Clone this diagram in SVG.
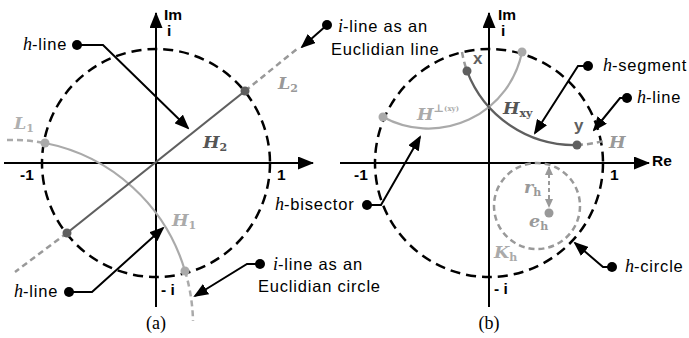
<svg xmlns="http://www.w3.org/2000/svg" width="689" height="338" viewBox="0 0 689 338">
<style>
.ax{fill:none;stroke:#000;stroke-width:2;marker-end:url(#axh)}
.uc{fill:none;stroke:#000;stroke-width:2.5;stroke-dasharray:10 6}
.lbl{font-family:"Liberation Sans",Arial,sans-serif;font-size:16.5px;letter-spacing:0.8px;fill:#000}
.mi{font-family:"Liberation Serif","Times New Roman",serif;font-style:italic;font-size:18px;letter-spacing:0}
.num{font-family:"Liberation Sans",Arial,sans-serif;font-weight:bold;font-size:15.5px;fill:#000}
.cap{font-family:"Liberation Serif","Times New Roman",serif;font-size:18px;fill:#000;text-anchor:middle}
.math{font-family:"DejaVu Serif","Liberation Serif",serif;font-style:italic;font-weight:bold;font-size:17.5px}
.sub{font-style:normal;font-size:11px}
.ann{fill:none;stroke:#000;stroke-width:2;marker-end:url(#ah)}
.bd{fill:#000}
.lt{stroke:#aaaaaa}
.md{stroke:#999999}
.dk{stroke:#5f5f5f}
.solid{fill:none;stroke-width:2.2}
.dash{fill:none;stroke-width:2.5;stroke-dasharray:6 4}
.pt{font-family:"Liberation Sans",Arial,sans-serif;font-weight:bold;font-size:17px;fill:#5f5f5f}
</style>
<defs>
<marker id="axh" markerUnits="userSpaceOnUse" markerWidth="16" markerHeight="13" viewBox="0 0 16 13" refX="15" refY="6.5" orient="auto"><path d="M0,0 L16,6.5 L0,13 Z" fill="#000"/></marker>
<marker id="ah" markerUnits="userSpaceOnUse" markerWidth="15" markerHeight="12" viewBox="0 0 15 12" refX="13" refY="6" orient="auto"><path d="M0,0 L15,6 L0,12 Z" fill="#000"/></marker>
<marker id="gh" markerUnits="userSpaceOnUse" markerWidth="9" markerHeight="8" viewBox="0 0 9 8" refX="8" refY="4" orient="auto-start-reverse"><path d="M0,0 L9,4 L0,8 Z" fill="#999999"/></marker>
</defs>

<g id="panel-a">
  <g id="axes-a">
    <path class="ax" d="M4,163 H313"/>
    <path class="ax" d="M156,307 V13"/>
    <circle class="uc" cx="156" cy="163" r="114"/>
    <text class="num" x="164" y="20" font-size="16">Im</text>
    <text class="num" x="167" y="36">i</text>
    <text class="num" x="20" y="180">-1</text>
    <text class="num" x="277" y="180">1</text>
    <text class="num" x="161" y="295">- i</text>
  </g>
  <g id="L1">
    <path class="dash lt" d="M7,140 A183,183 0 0 1 45,143"/>
    <path class="solid lt" d="M45,143 A183,183 0 0 1 185,271"/>
    <path class="dash lt" d="M185,271 A183,183 0 0 1 193,321"/>
    <circle cx="45" cy="143" r="4.5" fill="#aaaaaa"/>
    <circle cx="185" cy="271" r="4.5" fill="#aaaaaa"/>
    <text class="math" x="14" y="129" fill="#b0b0b0">L<tspan class="sub" dy="3">1</tspan></text>
    <text class="math" x="172" y="226" fill="#aaaaaa">H<tspan class="sub" dy="3">1</tspan></text>
  </g>
  <g id="L2">
    <path class="dash md" d="M245,91 L297,49"/>
    <path class="dash md" d="M67,233 L15,272"/>
    <path class="solid dk" d="M67,233 L245,91"/>
    <circle cx="245" cy="91" r="4.5" fill="#5f5f5f"/>
    <circle cx="67" cy="233" r="4.5" fill="#5f5f5f"/>
    <text class="math" x="278" y="89" fill="#999999">L<tspan class="sub" dy="3">2</tspan></text>
    <text class="math" x="203" y="148" fill="#555555">H<tspan class="sub" dy="3">2</tspan></text>
  </g>
  <g id="note-a-hline-top">
    <circle class="bd" cx="77" cy="45" r="5"/>
    <text class="lbl" x="23" y="50"><tspan class="mi">h</tspan>-line</text>
  </g>
  <g id="note-a-iline-line">
    <circle class="bd" cx="327" cy="25" r="5"/>
    <text class="lbl" x="338" y="32"><tspan class="mi">i</tspan>-line as an</text>
    <text class="lbl" x="331" y="55">Euclidian line</text>
  </g>
  <g id="note-a-hline-bottom">
    <circle class="bd" cx="69" cy="292" r="5"/>
    <text class="lbl" x="14" y="297"><tspan class="mi">h</tspan>-line</text>
  </g>
  <g id="note-a-iline-circle">
    <circle class="bd" cx="260" cy="264" r="5"/>
    <text class="lbl" x="273" y="270"><tspan class="mi">i</tspan>-line as an</text>
    <text class="lbl" x="258" y="292">Euclidian circle</text>
  </g>
  <text class="cap" x="156" y="329">(a)</text>
</g>

<g id="panel-b">
  <g id="axes-b">
    <path class="ax" d="M340,163 H649"/>
    <path class="ax" d="M489,307 V13"/>
    <circle class="uc" cx="489" cy="163" r="114"/>
    <text class="num" x="498" y="20" font-size="16">Im</text>
    <text class="num" x="501" y="36">i</text>
    <text class="num" x="652" y="166" font-size="16">Re</text>
    <text class="num" x="354" y="180">-1</text>
    <text class="num" x="610" y="180">1</text>
    <text class="num" x="494" y="294">- i</text>
  </g>
  <g id="Hperp">
    <path class="solid lt" d="M383,117 A95.3,95.3 0 0 0 522,52"/>
    <circle cx="383" cy="117" r="4.5" fill="#aaaaaa"/>
    <circle cx="522" cy="52" r="4.5" fill="#aaaaaa"/>
    <text class="math" x="417" y="120" fill="#aaaaaa">H<tspan font-style="normal" font-size="11" dy="-8">⊥</tspan><tspan font-style="normal" font-size="7" dy="-1">(xy)</tspan></text>
  </g>
  <g id="Hxy">
    <path class="dash md" d="M462,52 A114.7,114.7 0 0 0 467,71"/>
    <path class="solid dk" d="M467,71 A114.7,114.7 0 0 0 577,145"/>
    <path class="dash md" d="M577,145 A114.7,114.7 0 0 0 603,141"/>
    <circle cx="467" cy="71" r="4.5" fill="#5f5f5f"/>
    <circle cx="577" cy="145" r="4.5" fill="#5f5f5f"/>
    <text class="pt" x="473" y="64">x</text>
    <text class="pt" x="574" y="131">y</text>
    <text class="math" x="503" y="114" fill="#555555">H<tspan class="sub" dy="3">xy</tspan></text>
    <text class="math" x="609" y="148" fill="#999999">H</text>
  </g>
  <g id="Kh">
    <circle class="dash md" cx="537" cy="206" r="43"/>
    <path d="M549,167 V207" fill="none" stroke="#999999" stroke-width="2" stroke-dasharray="4 3" marker-start="url(#gh)" marker-end="url(#gh)"/>
    <circle cx="549" cy="213" r="4.5" fill="#999999"/>
    <text class="math" x="524" y="193" fill="#999999">r<tspan class="sub" dy="3">h</tspan></text>
    <text class="math" x="529" y="227" fill="#999999">e<tspan class="sub" dy="3">h</tspan></text>
    <text class="math" x="494" y="258" fill="#aaaaaa">K<tspan class="sub" dy="3">h</tspan></text>
  </g>
  <g id="note-b-segment">
    <circle class="bd" cx="588" cy="66" r="5"/>
    <text class="lbl" x="603" y="71"><tspan class="mi">h</tspan>-segment</text>
  </g>
  <g id="note-b-hline">
    <circle class="bd" cx="627" cy="98" r="5"/>
    <text class="lbl" x="637" y="103"><tspan class="mi">h</tspan>-line</text>
  </g>
  <g id="note-b-bisector">
    <circle class="bd" cx="367" cy="205" r="5"/>
    <text class="lbl" x="275" y="210"><tspan class="mi">h</tspan>-bisector</text>
  </g>
  <g id="note-b-circle">
    <circle class="bd" cx="612" cy="267" r="5"/>
    <text class="lbl" x="625" y="272"><tspan class="mi">h</tspan>-circle</text>
  </g>
  <text class="cap" x="489" y="329">(b)</text>
</g>

<g id="connectors">
  <path class="ann" d="M77,45 H103 L188,128"/>
  <path class="ann" d="M327,25 L302,47"/>
  <path class="ann" d="M69,292 H92 L163,228"/>
  <path class="ann" d="M260,264 H247 L195,296"/>
  <path class="ann" d="M588,66 H578 L535,133"/>
  <path class="ann" d="M627,98 H620 L594,130"/>
  <path class="ann" d="M367,205 H381 L420,137"/>
  <path class="ann" d="M612,267 H603 L575,243"/>
</g>
</svg>
